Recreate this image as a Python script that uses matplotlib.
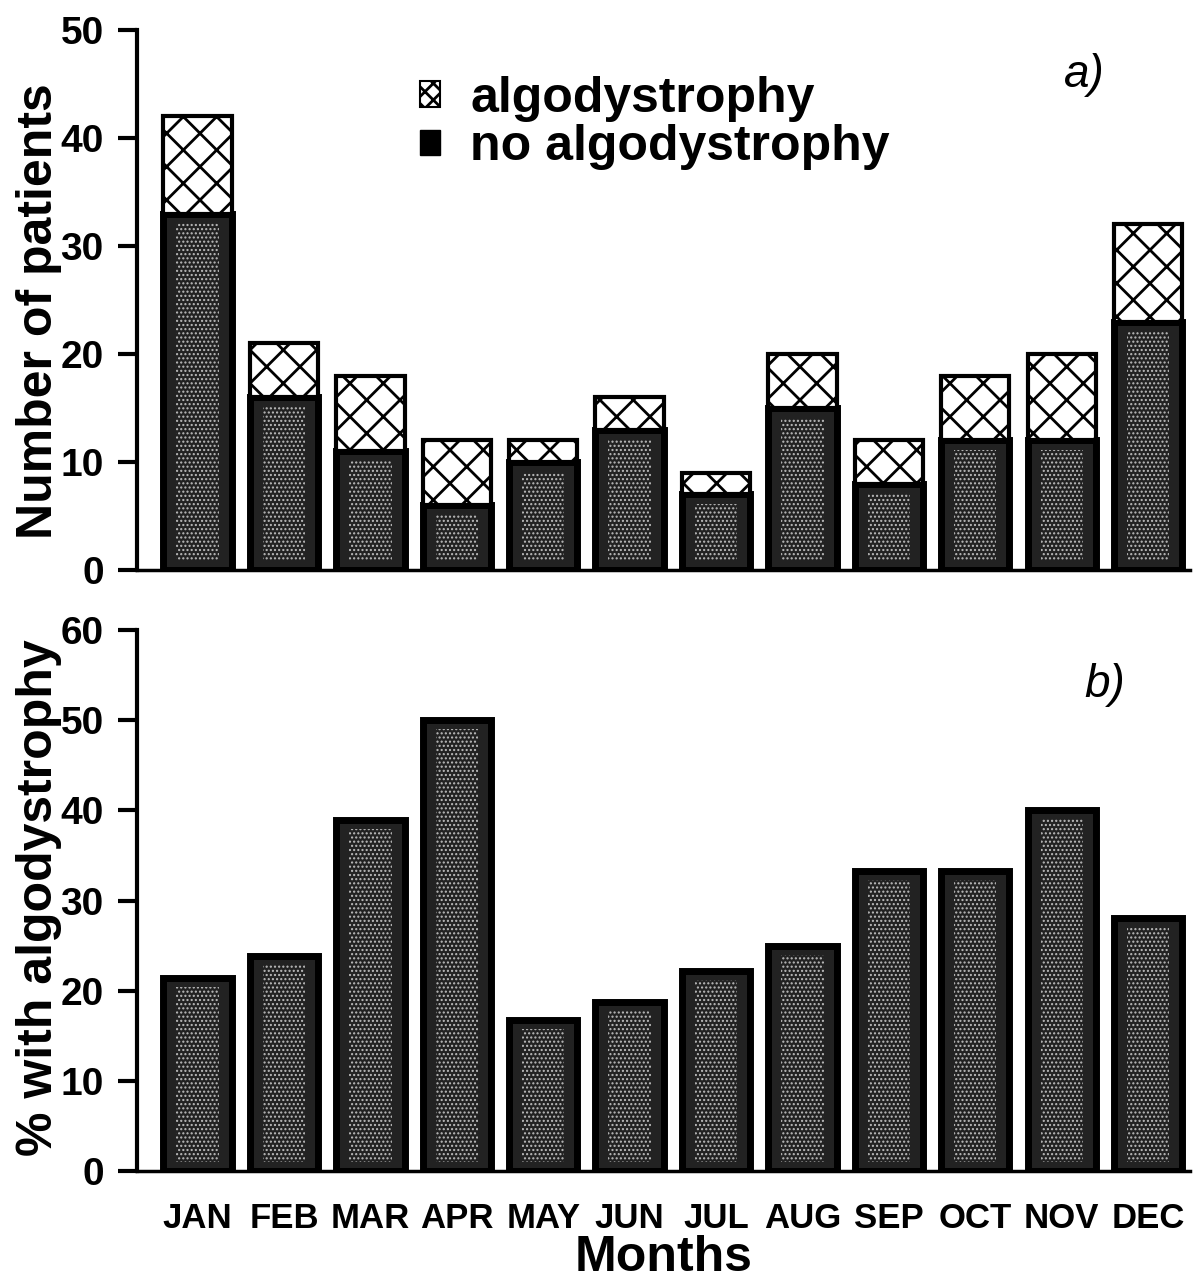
import numpy as np
import matplotlib.pyplot as plt
from matplotlib.patches import Patch

plt.rcParams['font.family'] = ['Liberation Sans', 'DejaVu Sans']
plt.rcParams['font.weight'] = 'bold'
plt.rcParams['hatch.linewidth'] = 2.0

months = ["JAN", "FEB", "MAR", "APR", "MAY", "JUN", "JUL", "AUG", "SEP", "OCT", "NOV", "DEC"]
no_algo = [33, 16, 11, 6, 10, 13, 7, 15, 8, 12, 12, 23]
algo = [9, 5, 7, 6, 2, 3, 2, 5, 4, 6, 8, 9]
pct_algo = [21.4, 23.8, 38.9, 50.0, 16.7, 18.8, 22.2, 25.0, 33.3, 33.3, 40.0, 28.1]

dark = "#222222"
x = np.arange(len(months))
w = 0.79


def speckled(ax, heights, inset):
    # dark bar with thick black rim and a dotted inner area, like the printed screen
    h = np.asarray(heights, dtype=float)
    ax.bar(x, h, w, color=dark, edgecolor="black", linewidth=5)
    plt.rcParams['hatch.linewidth'] = 1.0
    ax.bar(x, h - 2 * inset, w * 0.62, bottom=inset, facecolor="none",
           edgecolor="#bdbdbd", linewidth=0, hatch="....")
    plt.rcParams['hatch.linewidth'] = 2.0


fig = plt.figure(figsize=(11.97, 12.84), dpi=100)
ax1 = fig.add_axes([0.1145, 0.5561, 0.88, 0.4206])
ax2 = fig.add_axes([0.1145, 0.0880, 0.88, 0.4213])

# panel a: stacked counts
speckled(ax1, no_algo, 0.9)
ax1.bar(x, algo, w, bottom=no_algo, color="white", edgecolor="black", linewidth=3, hatch="x")
ax1.set_ylim(0, 50)
ax1.set_yticks(range(0, 51, 10))
ax1.set_ylabel("Number of patients", fontsize=36, fontweight="bold")
ax1.yaxis.set_label_coords(-0.071, 0.48)
ax1.set_xticks([])
ax1.text(0.919, 0.917, "a)", transform=ax1.transAxes, fontsize=33,
         fontstyle="italic", fontweight="normal", ha="right", va="center")
handles = [Patch(facecolor="white", edgecolor="black", hatch="xx", linewidth=1.5, label="algodystrophy"),
           Patch(facecolor="black", edgecolor="black", label="no algodystrophy")]
ax1.legend(handles=handles, loc="upper left", bbox_to_anchor=(0.269, 0.915), frameon=False,
           fontsize=36, handlelength=0.4, handleheight=0.4, handletextpad=0.6,
           labelspacing=0.05, borderaxespad=0, borderpad=0)

# panel b: percentages
speckled(ax2, pct_algo, 1.0)
ax2.set_ylim(0, 60)
ax2.set_yticks(range(0, 61, 10))
ax2.set_ylabel("% with algodystrophy", fontsize=36, fontweight="bold")
ax2.yaxis.set_label_coords(-0.071, 0.505)
ax2.set_xticks(x)
ax2.set_xticklabels(months, fontsize=25, fontweight="bold")
ax2.tick_params(axis="x", length=0, pad=22)
ax2.set_xlabel("Months", fontsize=36, fontweight="bold", labelpad=0)
ax2.text(0.938, 0.898, "b)", transform=ax2.transAxes, fontsize=33,
         fontstyle="italic", fontweight="normal", ha="right", va="center")

for ax in (ax1, ax2):
    ax.set_xlim(-0.70, 11.49)
    ax.spines["top"].set_visible(False)
    ax.spines["right"].set_visible(False)
    ax.spines["left"].set_linewidth(3)
    ax.spines["bottom"].set_linewidth(2.5)
    ax.tick_params(axis="y", direction="out", length=14, width=3, labelsize=28, pad=10)

fig.savefig("out.png", dpi=100)
